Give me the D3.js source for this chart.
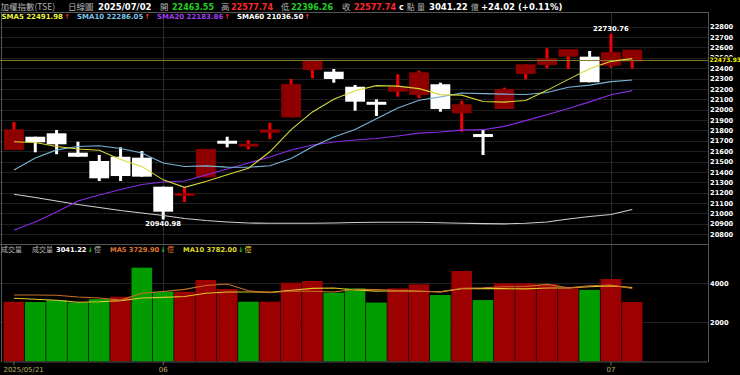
<!DOCTYPE html>
<html lang="zh-Hant">
  <head>
    <meta charset="utf-8" />
    <title>加權指數(TSE) 日線圖</title>
    <style>
      html,
      body {
        margin: 0;
        padding: 0;
        background: #000;
      }
      svg {
        display: block;
      }
      text {
        font-family: "DejaVu Sans", Verdana, sans-serif;
      }
      .cjk {
        font-family: "Noto Sans CJK TC", "Noto Sans CJK SC", sans-serif;
      }
    </style>
  </head>
  <body>
    <svg id="chart" width="740" height="375"></svg>
    <script src="https://d3js.org/d3.v7.min.js"></script>
    <script>
      // trading days shown
      var dates = [
        "2025/05/21", "2025/05/22", "2025/05/23", "2025/05/26", "2025/05/27",
        "2025/05/28", "2025/05/29", "2025/06/02", "2025/06/03", "2025/06/04",
        "2025/06/05", "2025/06/06", "2025/06/09", "2025/06/10", "2025/06/11",
        "2025/06/12", "2025/06/13", "2025/06/16", "2025/06/17", "2025/06/18",
        "2025/06/19", "2025/06/20", "2025/06/23", "2025/06/24", "2025/06/25",
        "2025/06/26", "2025/06/27", "2025/06/30", "2025/07/01", "2025/07/02"
      ];

      // OHLC (index points)
      var opens = [21611, 21739, 21772, 21585, 21505, 21546, 21537, 21257, 21180, 21348,
        21687, 21645, 21777, 21926, 22382, 22366, 22221, 22063, 22173, 22141,
        22245, 21965, 21752, 22006, 22344, 22431, 22511, 22511, 22424, 22463.55];
      var highs = [21881, 21739, 21804, 21691, 21563, 21637, 21601, 21257, 21254, 21621,
        21739, 21706, 21874, 22296, 22479, 22392, 22238, 22100, 22341, 22376,
        22260, 22086, 21804, 22212, 22437, 22592, 22582, 22566, 22730.76, 22577.74];
      var lows = [21611, 21589, 21570, 21546, 21312, 21312, 21354, 20940.98, 21110, 21348,
        21637, 21617, 21715, 21926, 22302, 22260, 21990, 21939, 22125, 22110,
        21980, 21787, 21563, 22006, 22293, 22399, 22392, 22264, 22405, 22396.26];
      var closes = [21811, 21685, 21666, 21546, 21338, 21360, 21354, 21016, 21185, 21621,
        21685, 21670, 21810, 22247, 22479, 22296, 22077, 22060, 22221, 22360,
        22006, 22052, 21749, 22199, 22437, 22495, 22582, 22264, 22553.72, 22577.74];
      var prevClose = 21760; // close before the first day shown

      // moving averages
      var sma5 = [21691, 21683, 21645, 21621, 21609, 21519, 21453, 21323, 21251, 21307,
        21372, 21435, 21594, 21807, 21978, 22100, 22182, 22232, 22227, 22203,
        22145, 22140, 22078, 22073, 22089, 22186, 22292, 22395, 22466, 22491.98];
      var sma10 = [21418, 21534, 21612, 21645, 21652, 21625, 21582, 21486, 21452, 21458,
        21446, 21444, 21459, 21529, 21643, 21736, 21809, 21913, 22017, 22091,
        22123, 22161, 22155, 22150, 22146, 22166, 22216, 22237, 22270, 22286.05];
      var sma20 = [20839, 20916, 21013, 21119, 21177, 21230, 21278, 21303, 21312, 21370,
        21428, 21486, 21543, 21611, 21659, 21688, 21708, 21722, 21746, 21774,
        21784, 21803, 21807, 21839, 21894, 21951, 22012, 22075, 22143, 22183.86];
      var sma60 = [21184, 21153, 21119, 21085, 21057, 21028, 21004, 20979, 20950, 20931,
        20917, 20907, 20904, 20904, 20904, 20907, 20912, 20914, 20914, 20914,
        20909, 20904, 20901, 20899, 20904, 20917, 20946, 20970, 20989, 21036.5];

      // volume (億) and its averages
      var volumes = [3056, 3040, 3140, 3020, 3190, 3310, 4800, 3570, 3570, 4170,
        3710, 3056, 3056, 4030, 4120, 3520, 3740, 3010, 3740, 3950,
        3400, 4630, 3140, 4000, 4000, 3960, 3740, 3660, 4220, 3041.22];
      var volMa5 = [3400, 3400, 3390, 3300, 3250, 3140, 3492, 3578, 3688, 3884,
        3964, 3615, 3512, 3604, 3594, 3556, 3693, 3684, 3626, 3592,
        3568, 3746, 3772, 3824, 3834, 3946, 3768, 3872, 3916, 3729.9];
      var volMa10 = [3230, 3180, 3130, 3030, 3050, 3110, 3250, 3280, 3320, 3487,
        3552, 3554, 3545, 3646, 3739, 3760, 3654, 3598, 3615, 3593,
        3562, 3720, 3728, 3725, 3713, 3757, 3757, 3822, 3870, 3782];

      // axis ticks
      var priceTicks = [20800, 20900, 21000, 21100, 21200, 21300, 21400, 21500, 21600, 21700,
        21800, 21900, 22000, 22100, 22200, 22300, 22400, 22500, 22600, 22700, 22800];
      var volTicks = [2000, 4000];
      var tickDates = ["2025/05/21", "2025/06/02", "2025/07/01"];
      var tickLabels = ["2025/05/21", "06", "07"];
      var refPrice = 22473.93;

      var svg = d3.select("#chart");
      var frameRight = 708;

      // three empty slots on the right of the last day
      var slots = dates.concat(["_a", "_b", "_c"]);
      var x = d3.scaleBand().domain(slots).range([3.3, 706.9]).padding(0);
      var bw = x.bandwidth();
      var cx = function (i) {
        return x(dates[i]) + bw / 2;
      };

      var yP = d3.scaleLinear().domain([20800, 22800]).range([234.1, 26.7]);
      var yV = d3.scaleLinear().domain([0, 6000]).range([361.3, 244.3]);

      // grid
      svg
        .append("g")
        .selectAll("line")
        .data(priceTicks)
        .join("line")
        .attr("x1", 0)
        .attr("x2", frameRight)
        .attr("y1", (d) => Math.round(yP(d)) + 0.5)
        .attr("y2", (d) => Math.round(yP(d)) + 0.5)
        .attr("stroke", "#1f1f1f");

      svg
        .append("g")
        .selectAll("line")
        .data(volTicks)
        .join("line")
        .attr("x1", 0)
        .attr("x2", frameRight)
        .attr("y1", (d) => Math.round(yV(d)) + 0.5)
        .attr("y2", (d) => Math.round(yV(d)) + 0.5)
        .attr("stroke", "#222");

      // month separators
      svg
        .append("g")
        .selectAll("line")
        .data(tickDates.slice(1))
        .join("line")
        .attr("x1", (d) => Math.round(x(d) + bw / 2) + 0.5)
        .attr("x2", (d) => Math.round(x(d) + bw / 2) + 0.5)
        .attr("y1", 12)
        .attr("y2", 361)
        .attr("stroke", "#2c2c2c");

      // frame
      var frame = svg.append("g").attr("stroke", "#555").attr("fill", "none");
      frame.append("line").attr("x1", 0).attr("x2", frameRight).attr("y1", 12.5).attr("y2", 12.5);
      frame.append("line").attr("x1", 0).attr("x2", frameRight).attr("y1", 244.5).attr("y2", 244.5);
      frame.append("line").attr("x1", 1.5).attr("x2", 1.5).attr("y1", 12).attr("y2", 362);
      frame.append("line").attr("x1", frameRight + 0.5).attr("x2", frameRight + 0.5).attr("y1", 12).attr("y2", 362);

      // candles
      var upBody = "#8e0000",
        upWick = "#f00000",
        downColor = "#ffffff";
      var candles = svg
        .append("g")
        .selectAll("g")
        .data(dates)
        .join("g");

      candles
        .append("rect")
        .attr("x", (d, i) => cx(i) - 1.5)
        .attr("y", (d, i) => yP(highs[i]))
        .attr("width", 3)
        .attr("height", (d, i) => Math.max(yP(lows[i]) - yP(highs[i]), 1))
        .attr("fill", (d, i) => (closes[i] > opens[i] ? upWick : downColor));

      candles
        .append("rect")
        .attr("x", (d) => x(d) + 0.75)
        .attr("width", bw - 1.5)
        .attr("y", function (d, i) {
          var top = yP(Math.max(opens[i], closes[i]));
          var bot = yP(Math.min(opens[i], closes[i]));
          return bot - top < 3 ? (top + bot) / 2 - 1.5 : top;
        })
        .attr("height", function (d, i) {
          return Math.max(Math.abs(yP(opens[i]) - yP(closes[i])), 3);
        })
        .attr("fill", (d, i) => (closes[i] > opens[i] ? upBody : downColor));

      // reference price line
      svg
        .append("line")
        .attr("x1", 0)
        .attr("x2", frameRight)
        .attr("y1", yP(refPrice))
        .attr("y2", yP(refPrice))
        .attr("stroke", "#7d7a2c");

      // moving average lines
      var priceLine = d3
        .line()
        .x((d, i) => cx(i))
        .y((d) => yP(d));

      [
        [sma60, "#cfcfcf"],
        [sma20, "#8a2be2"],
        [sma10, "#79b4d6"],
        [sma5, "#d8d838"]
      ].forEach(function (s) {
        svg
          .append("path")
          .datum(s[0])
          .attr("d", priceLine)
          .attr("fill", "none")
          .attr("stroke", s[1])
          .attr("stroke-width", 1.1);
      });

      // high / low marks
      var fmt = d3.format(".2f");
      var hi = d3.maxIndex(highs),
        lo = d3.minIndex(lows);
      svg
        .append("text")
        .attr("x", cx(hi))
        .attr("y", yP(highs[hi]) - 2.5)
        .attr("text-anchor", "middle")
        .attr("fill", "#fff")
        .attr("font-size", 6.8)
        .attr("font-weight", "bold")
        .text(fmt(highs[hi]));
      svg
        .append("text")
        .attr("x", cx(lo))
        .attr("y", yP(lows[lo]) + 7)
        .attr("text-anchor", "middle")
        .attr("fill", "#fff")
        .attr("font-size", 6.8)
        .attr("font-weight", "bold")
        .text(fmt(lows[lo]));

      // volume bars
      svg
        .append("g")
        .selectAll("rect")
        .data(volumes)
        .join("rect")
        .attr("x", (d, i) => x(dates[i]) + 0.3)
        .attr("width", bw - 0.7)
        .attr("y", (d) => yV(d))
        .attr("height", (d) => yV(0) - yV(d))
        .attr("fill", function (d, i) {
          var before = i === 0 ? prevClose : closes[i - 1];
          return closes[i] > before ? "#9c0000" : "#009c00";
        });

      var volLine = d3
        .line()
        .x((d, i) => cx(i))
        .y((d) => yV(d));

      [
        [volMa10, "#e2c72a"],
        [volMa5, "#c9702a"]
      ].forEach(function (s) {
        svg
          .append("path")
          .datum(s[0])
          .attr("d", volLine)
          .attr("fill", "none")
          .attr("stroke", s[1])
          .attr("stroke-width", 1.1);
      });

      // right axes
      var plain = d3.format("d");
      var pAxis = svg
        .append("g")
        .attr("transform", "translate(" + frameRight + ",0)")
        .call(
          d3.axisRight(yP).tickValues(priceTicks).tickFormat(plain).tickSize(0).tickPadding(2)
        );
      var vAxis = svg
        .append("g")
        .attr("transform", "translate(" + frameRight + ",0)")
        .call(
          d3.axisRight(yV).tickValues(volTicks).tickFormat(plain).tickSize(0).tickPadding(2)
        );
      [pAxis, vAxis].forEach(function (a) {
        a.select(".domain").remove();
        a.selectAll("text")
          .attr("fill", "#fff")
          .attr("font-size", 6.7)
          .attr("font-weight", "bold")
          .attr("font-family", "DejaVu Sans, sans-serif");
      });

      // current reference price tag
      svg
        .append("rect")
        .attr("x", frameRight + 1)
        .attr("y", yP(refPrice) - 3.8)
        .attr("width", 31)
        .attr("height", 7.6)
        .attr("fill", "#000");
      svg
        .append("text")
        .attr("x", frameRight + 1.5)
        .attr("y", yP(refPrice))
        .attr("dy", "0.33em")
        .attr("fill", "#f4f000")
        .attr("font-size", 6)
        .attr("font-weight", "bold")
        .text(fmt(refPrice));

      // bottom date axis
      var xAxis = svg
        .append("g")
        .attr("transform", "translate(0,361.5)")
        .call(
          d3
            .axisBottom(x)
            .tickValues(tickDates)
            .tickFormat((d, i) => tickLabels[i])
            .tickSize(4)
            .tickSizeOuter(0)
            .tickPadding(1.5)
        );
      xAxis.select(".domain").attr("stroke", "#555");
      xAxis.selectAll(".tick line").attr("stroke", "#666");
      xAxis
        .selectAll("text")
        .attr("fill", "#b7b060")
        .attr("font-size", 7)
        .attr("font-family", "DejaVu Sans, sans-serif");
      xAxis
        .selectAll("text")
        .filter((d, i) => i === 0)
        .attr("text-anchor", "start")
        .attr("x", -10.5);

      // header texts
      function put(xp, yp, str, color, size, bold, cjk) {
        var t = svg
          .append("text")
          .attr("x", xp)
          .attr("y", yp)
          .attr("fill", color)
          .attr("font-size", size)
          .text(str);
        if (bold) t.attr("font-weight", "bold");
        if (cjk) t.attr("class", "cjk");
        return xp + t.node().getComputedTextLength();
      }

      var grey = "#b4b4b4",
        green = "#22d022",
        red = "#ff2a2a";
      put(0.5, 9.5, "加權指數(TSE)", grey, 8.5, false, true);
      put(68, 9.5, "日線圖", grey, 8.5, false, true);
      put(98, 9.5, "2025/07/02", "#fff", 8.5, true);
      put(160, 9.5, "開", grey, 8.5, false, true);
      put(172, 9.5, "22463.55", green, 8, true);
      put(221, 9.5, "高", grey, 8.5, false, true);
      put(231, 9.5, "22577.74", red, 8, true);
      put(281, 9.5, "低", grey, 8.5, false, true);
      put(291, 9.5, "22396.26", green, 8, true);
      put(342, 9.5, "收", grey, 8.5, false, true);
      var e = put(354, 9.5, "22577.74", red, 8, true);
      e = put(e + 3, 9.5, "c", "#fff", 8, true);
      put(e + 3, 9.5, "點", grey, 8, false, true);
      put(417, 9.5, "量", grey, 8, false, true);
      e = put(429, 9.5, "3041.22", "#fff", 8.5, true);
      put(e + 3, 9.5, "億", grey, 8, false, true);
      put(481, 9.5, "+24.02 (+0.11%)", "#fff", 8.5, true);

      [
        [1.5, "SMA5 22491.98", "#f2f23a"],
        [77, "SMA10 22286.05", "#7cc3ea"],
        [157, "SMA20 22183.86", "#a13ef0"],
        [237, "SMA60 21036.50", "#ffffff"]
      ].forEach(function (s) {
        var end = put(s[0], 18.8, s[1], s[2], 7, true);
        put(end + 1, 18.8, "↑", red, 7, true);
      });

      put(1, 252.3, "成交量", grey, 7, false, true);
      put(32, 252.3, "成交量", grey, 7, false, true);
      [
        [56, "3041.22", "#fff", grey],
        [110, "MA5 3729.90", "#e0762c", "#e0762c"],
        [183, "MA10 3782.00", "#e2da2e", "#e2da2e"]
      ].forEach(function (s) {
        var end = put(s[0], 252.3, s[1], s[2], 6.7, true);
        end = put(end + 1, 252.3, "↓", green, 6.7, true);
        put(end + 1, 252.3, "億", s[3], 7, false, true);
      });
    </script>
  </body>
</html>
